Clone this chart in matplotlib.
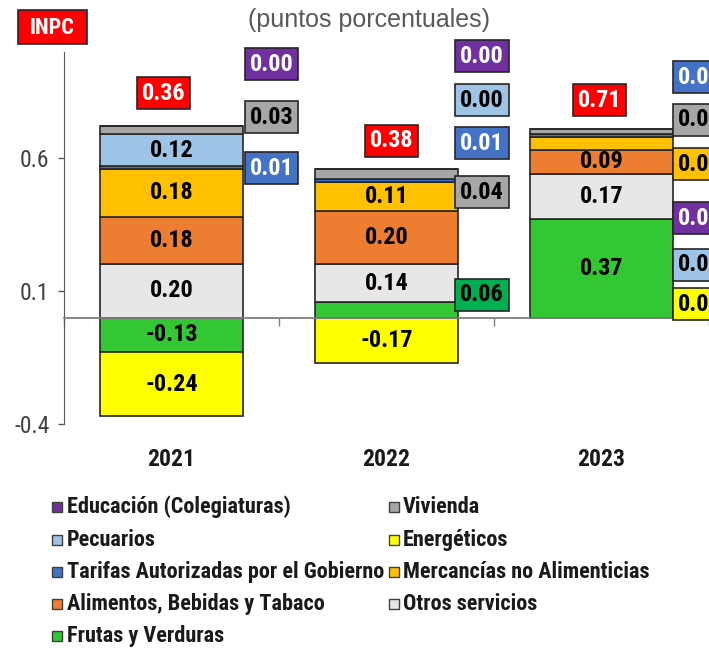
import matplotlib
matplotlib.use('Agg')
import matplotlib.pyplot as plt
from matplotlib import font_manager
from matplotlib.patches import Rectangle

# ---------------- data ----------------
years = ['2021', '2022', '2023']
frutas = [-0.13, 0.06, 0.37]
otros_servicios = [0.20, 0.14, 0.17]
alimentos = [0.18, 0.20, 0.09]
mercancias = [0.18, 0.11, 0.05]
tarifas = [0.01, 0.01, 0.01]
energeticos = [-0.24, -0.17, 0.00]
pecuarios = [0.12, 0.00, 0.00]
vivienda = [0.03, 0.04, 0.02]
educacion = [0.00, 0.00, 0.00]
inpc = [0.36, 0.38, 0.71]

names_stack = ['Frutas y Verduras', 'Otros servicios', 'Alimentos, Bebidas y Tabaco',
               'Mercancías no Alimenticias', 'Tarifas Autorizadas por el Gobierno',
               'Energéticos', 'Pecuarios', 'Vivienda', 'Educación (Colegiaturas)']
values_stack = [frutas, otros_servicios, alimentos, mercancias, tarifas,
                energeticos, pecuarios, vivienda, educacion]
legend_order = ['Educación (Colegiaturas)', 'Vivienda', 'Pecuarios', 'Energéticos',
                'Tarifas Autorizadas por el Gobierno', 'Mercancías no Alimenticias',
                'Alimentos, Bebidas y Tabaco', 'Otros servicios', 'Frutas y Verduras']

# ---------------- styles ----------------
colors = {
    'Frutas y Verduras': '#33C833',
    'Otros servicios': '#E8E6E6',
    'Alimentos, Bebidas y Tabaco': '#ED7D31',
    'Mercancías no Alimenticias': '#FFC000',
    'Tarifas Autorizadas por el Gobierno': '#4472C4',
    'Energéticos': '#FFFF00',
    'Pecuarios': '#9DC3E6',
    'Vivienda': '#A6A6A6',
    'Educación (Colegiaturas)': '#7030A0',
}
side_face = dict(colors)
side_face['Frutas y Verduras'] = '#00B050'
white_text = {'Tarifas Autorizadas por el Gobierno', 'Educación (Colegiaturas)'}

# side label layout (series, year index) -> y position
side_pos = {
    ('Educación (Colegiaturas)', 0): 0.953,
    ('Vivienda', 0): 0.754,
    ('Tarifas Autorizadas por el Gobierno', 0): 0.562,
    ('Educación (Colegiaturas)', 1): 0.983,
    ('Pecuarios', 1): 0.818,
    ('Tarifas Autorizadas por el Gobierno', 1): 0.656,
    ('Vivienda', 1): 0.472,
    ('Frutas y Verduras', 1): 0.085,
    ('Tarifas Autorizadas por el Gobierno', 2): 0.904,
    ('Vivienda', 2): 0.743,
    ('Mercancías no Alimenticias', 2): 0.577,
    ('Educación (Colegiaturas)', 2): 0.374,
    ('Pecuarios', 2): 0.198,
    ('Energéticos', 2): 0.051,
}
side_dx = [0.465, 0.444, 0.456]
inpc_pos = [(-0.037, 0.844), (0.023, 0.664), (-0.009, 0.818)]

available = {f.name for f in font_manager.fontManager.ttflist}
NARROW = 'Roboto Condensed' if 'Roboto Condensed' in available else 'DejaVu Sans'
REG = 'Liberation Sans' if 'Liberation Sans' in available else 'DejaVu Sans'

W, H = 709, 649
fig = plt.figure(figsize=(W / 100, H / 100), dpi=100)
ax = fig.add_axes([64 / W, 1 - 424 / H, (W - 64) / W, (424 - 51.6) / H])

EDGE = '#262626'
LBL = 17.5
bw = 0.665
xs = list(range(len(years)))
pos_base = [0.0] * len(years)
neg_base = [0.0] * len(years)
for name, vals in zip(names_stack, values_stack):
    bottoms = []
    for i, v in enumerate(vals):
        if v >= 0:
            bottoms.append(pos_base[i])
            pos_base[i] += v
        else:
            bottoms.append(neg_base[i])
            neg_base[i] += v
    ax.bar(xs, vals, width=bw, bottom=bottoms, color=colors[name],
           edgecolor=EDGE, linewidth=1.2, zorder=3)
    for i, v in enumerate(vals):
        if abs(v) >= 0.09:
            ax.text(xs[i], bottoms[i] + v / 2, f'{v:.2f}', ha='center', va='center',
                    fontsize=LBL, fontweight='bold', family=NARROW,
                    color='black', zorder=5)
        elif (name, i) in side_pos:
            tc = 'white' if name in white_text else 'black'
            ax.text(xs[i] + side_dx[i], side_pos[(name, i)], f'{abs(v):.2f}' if v == 0 else f'{v:.2f}',
                    ha='center', va='center', fontsize=LBL, fontweight='bold',
                    family=NARROW, color=tc, zorder=6, clip_on=False,
                    bbox=dict(boxstyle='square,pad=0.2', fc=side_face[name], ec=EDGE, lw=1.2))

for i, v in enumerate(inpc):
    dx, y = inpc_pos[i]
    ax.text(xs[i] + dx, y, f'{v:.2f}', ha='center', va='center', fontsize=LBL,
            fontweight='bold', family=NARROW, color='white', zorder=6,
            bbox=dict(boxstyle='square,pad=0.2', fc='#FF0000', ec=EDGE, lw=1.2))

ax.set_xlim(-0.5, 2.5)
ax.set_ylim(-0.4, 1.0)
ax.set_yticks([-0.4, 0.1, 0.6])
ax.set_yticklabels(['-0.4', '0.1', '0.6'], family=NARROW, fontsize=17, color='#404040')
ax.tick_params(axis='y', length=4.5, width=1, color='#595959', pad=6)
ax.spines['left'].set_color('#595959')
ax.spines['right'].set_visible(False)
ax.spines['top'].set_visible(False)
ax.spines['bottom'].set_position(('data', 0))
ax.spines['bottom'].set_color('#7F7F7F')
ax.spines['bottom'].set_linewidth(1.3)
ax.spines['bottom'].set_zorder(4)
ax.set_xticks([-0.5, 0.5, 1.5, 2.5])
ax.set_xticklabels([])
ax.tick_params(axis='x', length=6, width=1, color='#7F7F7F', direction='out')
for i, y in enumerate(years):
    ax.text(xs[i], -0.532, y, ha='center', va='center', fontsize=17,
            fontweight='bold', family=NARROW, color='#1A1A1A')

# title
fig.text(369 / W, 1 - 20 / H, '(puntos porcentuales)', ha='center', va='center',
         fontsize=18, family=REG, color='#595959')
# INPC tag
fig.add_artist(Rectangle((18 / W, 1 - 44 / H), 69 / W, 34 / H, transform=fig.transFigure,
                         fc='#FF0000', ec=EDGE, lw=1.2))
fig.text(52.5 / W, 1 - 27.5 / H, 'INPC', ha='center', va='center', fontsize=16,
         fontweight='bold', family=NARROW, color='white')

# legend (row-major, 2 columns)
row_y = [507, 540, 572, 604, 636]
col_mx = [52, 389]
col_tx = [67, 403]
for k, name in enumerate(legend_order):
    r, c = divmod(k, 2)
    y = row_y[r]
    fig.add_artist(Rectangle((col_mx[c] / W, 1 - (y + 5) / H), 10 / W, 10 / H,
                             transform=fig.transFigure, fc=colors[name], ec='#404040', lw=1.0))
    fig.text(col_tx[c] / W, 1 - y / H, name, ha='left', va='center',
             fontsize=16, fontweight='bold', family=NARROW, color='#1A1A1A')

fig.savefig('out.png', dpi=100)
